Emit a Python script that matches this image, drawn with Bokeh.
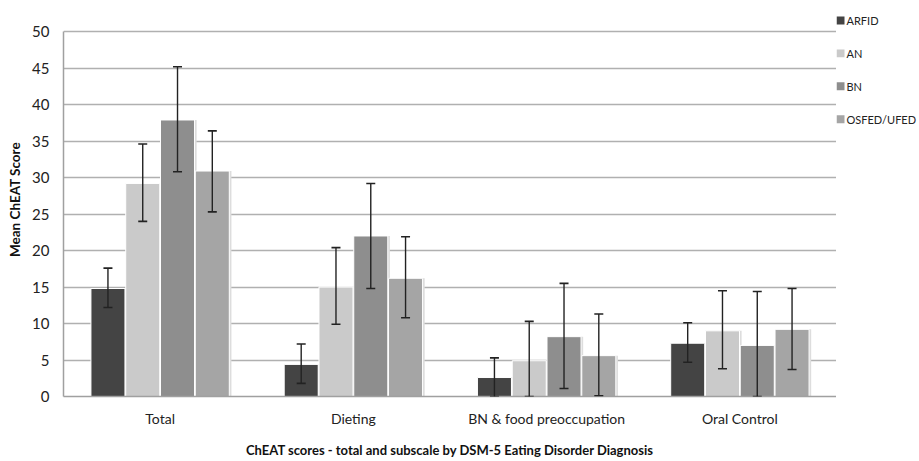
from bokeh.plotting import figure
from bokeh.models import (ColumnDataSource, FactorRange, Range1d, FixedTicker, Whisker,
                          TeeHead)
from bokeh.core.properties import value
from bokeh.layouts import row
from bokeh.transform import dodge
from bokeh.embed import file_html
from bokeh.resources import INLINE

categories = ["Total", "Dieting", "BN & food preoccupation", "Oral Control"]
series = ["ARFID", "AN", "BN", "OSFED/UFED"]
colors = ["#444444", "#cacaca", "#8e8e8e", "#a5a5a5"]

means = {
    "ARFID":      [14.8, 4.4, 2.6, 7.3],
    "AN":         [29.2, 15.0, 4.9, 9.0],
    "BN":         [37.9, 22.0, 8.2, 7.0],
    "OSFED/UFED": [30.9, 16.2, 5.6, 9.2],
}
err_low = {
    "ARFID":      [12.2, 1.8, 0.0, 4.7],
    "AN":         [24.0, 9.9, 0.0, 3.8],
    "BN":         [30.8, 14.8, 1.1, 0.0],
    "OSFED/UFED": [25.3, 10.8, 0.1, 3.7],
}
err_high = {
    "ARFID":      [17.6, 7.2, 5.3, 10.1],
    "AN":         [34.6, 20.4, 10.3, 14.5],
    "BN":         [45.2, 29.2, 15.5, 14.4],
    "OSFED/UFED": [36.4, 21.9, 11.3, 14.8],
}
y_ticks = [0, 5, 10, 15, 20, 25, 30, 35, 40, 45, 50]

offsets = [-0.27, -0.09, 0.09, 0.27]
bar_w = 0.176

FONT = "Lato"
H = 460
TOP = 2

# y range runs a little past 50 so the legend column (aligned frames) has room on top
p = figure(x_range=FactorRange(*categories, range_padding=0), y_range=Range1d(0, 54),
           width=836, height=H, output_backend="svg", toolbar_location=None,
           min_border_left=63, min_border_right=0, min_border_top=TOP, min_border_bottom=40)
p.outline_line_color = None
p.background_fill_color = "white"

p.ygrid.ticker = FixedTicker(ticks=y_ticks)
p.ygrid.grid_line_color = "#b0b0b0"
p.ygrid.grid_line_width = 1.5
p.xgrid.grid_line_color = None

for s, off, col in zip(series, offsets, colors):
    src = ColumnDataSource(dict(cat=categories, top=means[s], lo=err_low[s], hi=err_high[s]))
    # light shadow to the right of each bar
    p.vbar(x=dodge("cat", off + 0.011, range=p.x_range), top="top", width=bar_w,
           source=src, fill_color="#dddddd", line_color=None)
    p.vbar(x=dodge("cat", off, range=p.x_range), top="top", width=bar_w, source=src,
           fill_color=col, line_color="white", line_width=1)
    w = Whisker(base=dodge("cat", off, range=p.x_range), lower="lo", upper="hi", source=src,
                level="annotation", line_color="#222222", line_width=1.4,
                upper_head=TeeHead(size=9, line_color="#222222", line_width=1.6),
                lower_head=TeeHead(size=9, line_color="#222222", line_width=1.6))
    p.add_layout(w)

# axes
p.yaxis.ticker = FixedTicker(ticks=y_ticks)
p.yaxis.bounds = (0, 50)
p.yaxis.axis_line_color = "#a0a0a0"
p.yaxis.axis_line_width = 1.5
p.yaxis.major_tick_line_color = None
p.yaxis.minor_tick_line_color = None
p.yaxis.major_label_text_font = FONT
p.yaxis.major_label_text_font_size = "15px"
p.yaxis.major_label_text_color = "#222222"
p.yaxis.major_label_standoff = 8
p.yaxis.axis_label = "Mean ChEAT Score"
p.yaxis.axis_label_text_font = FONT
p.yaxis.axis_label_text_font_size = "13.5px"
p.yaxis.axis_label_text_font_style = "bold"
p.yaxis.axis_label_text_color = "#111111"
p.yaxis.axis_label_standoff = 6

p.xaxis.axis_line_color = "#a0a0a0"
p.xaxis.axis_line_width = 1.5
p.xaxis.major_tick_line_color = None
p.xaxis.minor_tick_line_color = None
p.xaxis.major_label_text_font = FONT
p.xaxis.major_label_text_font_size = "14px"
p.xaxis.major_label_text_color = "#222222"
p.xaxis.major_label_standoff = 7
p.xaxis.axis_label = "ChEAT scores - total and subscale by DSM-5 Eating Disorder Diagnosis"
p.xaxis.axis_label_text_font = FONT
p.xaxis.axis_label_text_font_size = "13px"
p.xaxis.axis_label_text_font_style = "bold"
p.xaxis.axis_label_text_color = "#111111"
p.xaxis.axis_label_standoff = 12

# legend drawn in a narrow companion figure; its frame is aligned with the main frame,
# so its y range is expressed in the main figure's pixel rows (downwards)
LW = 82
FRAME_BOTTOM = 397
lg = figure(width=LW, height=H, output_backend="svg", toolbar_location=None,
            x_axis_type=None, y_axis_type=None, min_border=0,
            x_range=Range1d(0, LW), y_range=Range1d(FRAME_BOTTOM, TOP))
lg.outline_line_color = None
lg.grid.visible = False
row_y = [20 + 33 * i for i in range(len(series))]
lg.rect(x=[4] * len(series), y=row_y, width=8, height=8, fill_color=colors, line_color=None)
lg.text(x=[10] * len(series), y=row_y, text=series, text_font=value(FONT),
        text_font_size="11px", text_color="#222222", text_baseline="middle", text_align="left")

layout = row(p, lg)
open("out.html", "w").write(file_html(layout, INLINE))
